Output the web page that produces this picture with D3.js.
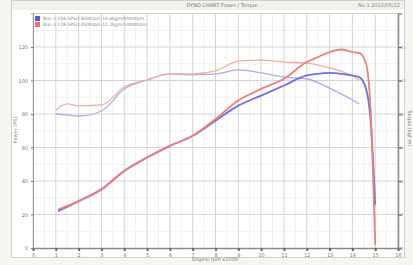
<!DOCTYPE html>
<html>
<head>
<meta charset="utf-8" />
<title>Dyno chart</title>
<style>
  html, body { margin: 0; padding: 0; background: #f6f6f1; }
  text { font-family: "DejaVu Sans", sans-serif; }
</style>
</head>
<body>
<script src="https://cdnjs.cloudflare.com/ajax/libs/d3/7.8.5/d3.min.js"></script>
<script>
    var width = 413,
        height = 265;

    // rpm readings shared by the power runs
    var rpmPower = [1100, 2000, 3000, 4000, 5000, 6000, 7000, 8000, 9000, 10000,
                    11000, 12000, 12500, 13000, 13500, 14000, 14300, 14600, 14800, 15000];
    var powerRed  = [23, 28, 35, 46, 54, 61, 67, 77, 88, 95,
                     101, 111, 114, 117, 118.5, 117, 116.5, 110, 82, 2];
    var powerBlue = [22, 28, 35, 46, 54, 61, 67, 76, 85, 91,
                     97, 103, 104, 104.5, 104, 103, 102, 95, 76, 26];

    // torque runs (right axis)
    var rpmTorque = [1000, 1500, 2000, 3000, 4000, 5000, 6000, 7000, 8000, 9000,
                     10000, 11000, 12000, 13000, 14000, 14300];
    var torqueRed  = [8.24, 8.6, 8.48, 8.54, 9.61, 10.03, 10.39, 10.39, 10.57, 11.16,
                      11.22, 11.1, 11.04, 10.75, 10.27, 10.03];
    var torqueBlue = [8.0, 7.95, 7.88, 8.18, 9.49, 10.03, 10.39, 10.33, 10.39, 10.63,
                      10.45, 10.21, 10.09, 9.55, 8.84, 8.6];

    var xTicks = d3.range(0, 16001, 1000);
    var yLeftTicks = [0, 20, 40, 60, 80, 100, 120];
    var yRightTicks = [0, 2, 4, 6, 8, 10, 12];

    var legendLabels = [
        "Run 1  104.5PS/13000rpm  10.6kgm/9000rpm",
        "Run 2  118.5PS/13500rpm  11.2kgm/10000rpm"
    ];

    var svg = d3.select('body').append('svg')
                .attr('width', width)
                .attr('height', height)
                .style('display', 'block');

    // panel
    svg.append('rect')
        .attr('x', 11.5).attr('y', 0.5)
        .attr('width', 393).attr('height', 257)
        .attr('fill', '#fff')
        .attr('stroke', '#cfcfcf');
    svg.append('rect')
        .attr('x', 12).attr('y', 1)
        .attr('width', 392).attr('height', 9)
        .attr('fill', '#f1f1ea');

    var x = d3.scaleLinear().domain([0, 16000]).range([33, 398]);
    var yL = d3.scaleLinear().domain([0, 140]).range([248, 13.5]);
    var yR = d3.scaleLinear().domain([0, 14]).range([248, 13.5]);

    var grid = svg.append('g');
    // minor grid
    grid.selectAll('.vminor')
        .data(d3.range(500, 16000, 1000))
    .enter().append('line')
        .attr('x1', function(d) { return x(d); })
        .attr('x2', function(d) { return x(d); })
        .attr('y1', yL(140)).attr('y2', yL(0))
        .attr('stroke', '#eef0ee');
    grid.selectAll('.hminor')
        .data(d3.range(10, 140, 20))
    .enter().append('line')
        .attr('x1', x(0)).attr('x2', x(16000))
        .attr('y1', function(d) { return yL(d); })
        .attr('y2', function(d) { return yL(d); })
        .attr('stroke', '#eef0ee');
    // major grid
    grid.selectAll('.vmajor')
        .data(xTicks)
    .enter().append('line')
        .attr('x1', function(d) { return x(d); })
        .attr('x2', function(d) { return x(d); })
        .attr('y1', yL(140)).attr('y2', yL(0))
        .attr('stroke', '#d2d4d2');
    grid.selectAll('.hmajor')
        .data(d3.range(20, 141, 20))
    .enter().append('line')
        .attr('x1', x(0)).attr('x2', x(16000))
        .attr('y1', function(d) { return yL(d); })
        .attr('y2', function(d) { return yL(d); })
        .attr('stroke', '#d2d4d2');

    // axes
    var xAxis = d3.axisBottom(x).tickValues(xTicks)
        .tickSize(3).tickFormat(function(d) { return d / 1000; });
    svg.append('g')
        .attr('transform', 'translate(0,248)')
        .call(xAxis)
        .call(function(g) {
            g.select('.domain').attr('stroke', '#8a8a8a').attr('stroke-width', 1.5);
            g.selectAll('.tick line').attr('stroke', '#666').attr('stroke-width', 2);
            g.selectAll('text').attr('font-size', 5).attr('fill', '#777').attr('dy', '0.5em');
        });

    var yAxisL = d3.axisLeft(yL).tickValues(yLeftTicks).tickSize(2);
    svg.append('g')
        .attr('transform', 'translate(33,0)')
        .call(yAxisL)
        .call(function(g) {
            g.select('.domain').attr('stroke', '#999');
            g.selectAll('.tick line').attr('stroke', '#777');
            g.selectAll('text').attr('font-size', 5).attr('fill', '#777');
        });

    var yAxisR = d3.axisRight(yR).tickValues(yRightTicks).tickSize(4);
    svg.append('g')
        .attr('transform', 'translate(398,0)')
        .call(yAxisR)
        .call(function(g) {
            g.select('.domain').attr('stroke', '#8a8a8a').attr('stroke-width', 1.5);
            g.selectAll('.tick line').attr('stroke', '#777').attr('stroke-width', 1.5);
            g.selectAll('text').attr('font-size', 4).attr('fill', '#999').attr('x', 3);
        });

    // curves
    var lineP = function(rpm) {
        return d3.line()
            .x(function(d, i) { return x(rpm[i]); })
            .y(function(d) { return yL(d); })
            .curve(d3.curveMonotoneX);
    };
    var lineT = function(rpm) {
        return d3.line()
            .x(function(d, i) { return x(rpm[i]); })
            .y(function(d) { return yR(d); })
            .curve(d3.curveMonotoneX);
    };

    svg.append('path').attr('d', lineT(rpmTorque)(torqueBlue))
        .attr('fill', 'none').attr('stroke', '#a9aee8').attr('stroke-width', 1.3);
    svg.append('path').attr('d', lineT(rpmTorque)(torqueRed))
        .attr('fill', 'none').attr('stroke', '#f2aaa6').attr('stroke-width', 1.3);
    svg.append('path').attr('d', lineP(rpmPower)(powerBlue))
        .attr('fill', 'none').attr('stroke', '#6f72d6').attr('stroke-width', 1.8);
    svg.append('path').attr('d', lineP(rpmPower)(powerRed))
        .attr('fill', 'none').attr('stroke', '#ec7f78').attr('stroke-width', 1.8);

    // legend
    var legendColors = ['#5a5fd0', '#e8706a'];
    var leg = svg.selectAll('.leg')
        .data(legendLabels)
    .enter().append('g')
        .attr('transform', function(d, i) { return 'translate(35,' + (16 + i * 6) + ')'; });
    leg.append('rect')
        .attr('width', 5).attr('height', 5)
        .attr('fill', function(d, i) { return legendColors[i]; });
    leg.append('text')
        .attr('x', 8).attr('y', 4)
        .attr('font-size', 4.5).attr('fill', '#888')
        .text(function(d) { return d; });

    // titles
    svg.append('text').attr('x', 222).attr('y', 7)
        .attr('text-anchor', 'middle').attr('font-size', 5).attr('fill', '#777')
        .text('DYNO CHART  Power / Torque');
    svg.append('text').attr('x', 400).attr('y', 7)
        .attr('text-anchor', 'end').attr('font-size', 5).attr('fill', '#888')
        .text('No.1  2010/05/12');
    svg.append('text').attr('x', 215).attr('y', 261)
        .attr('text-anchor', 'middle').attr('font-size', 5).attr('fill', '#777')
        .text('Engine  rpm x1000');
    svg.append('text')
        .attr('transform', 'translate(17,130) rotate(-90)')
        .attr('text-anchor', 'middle').attr('font-size', 5).attr('fill', '#888')
        .text('Power (PS)');
    svg.append('text')
        .attr('transform', 'translate(408,128) rotate(90)')
        .attr('text-anchor', 'middle').attr('font-size', 5).attr('fill', '#888')
        .text('Torque (kgf·m)');
</script>
</body>
</html>
